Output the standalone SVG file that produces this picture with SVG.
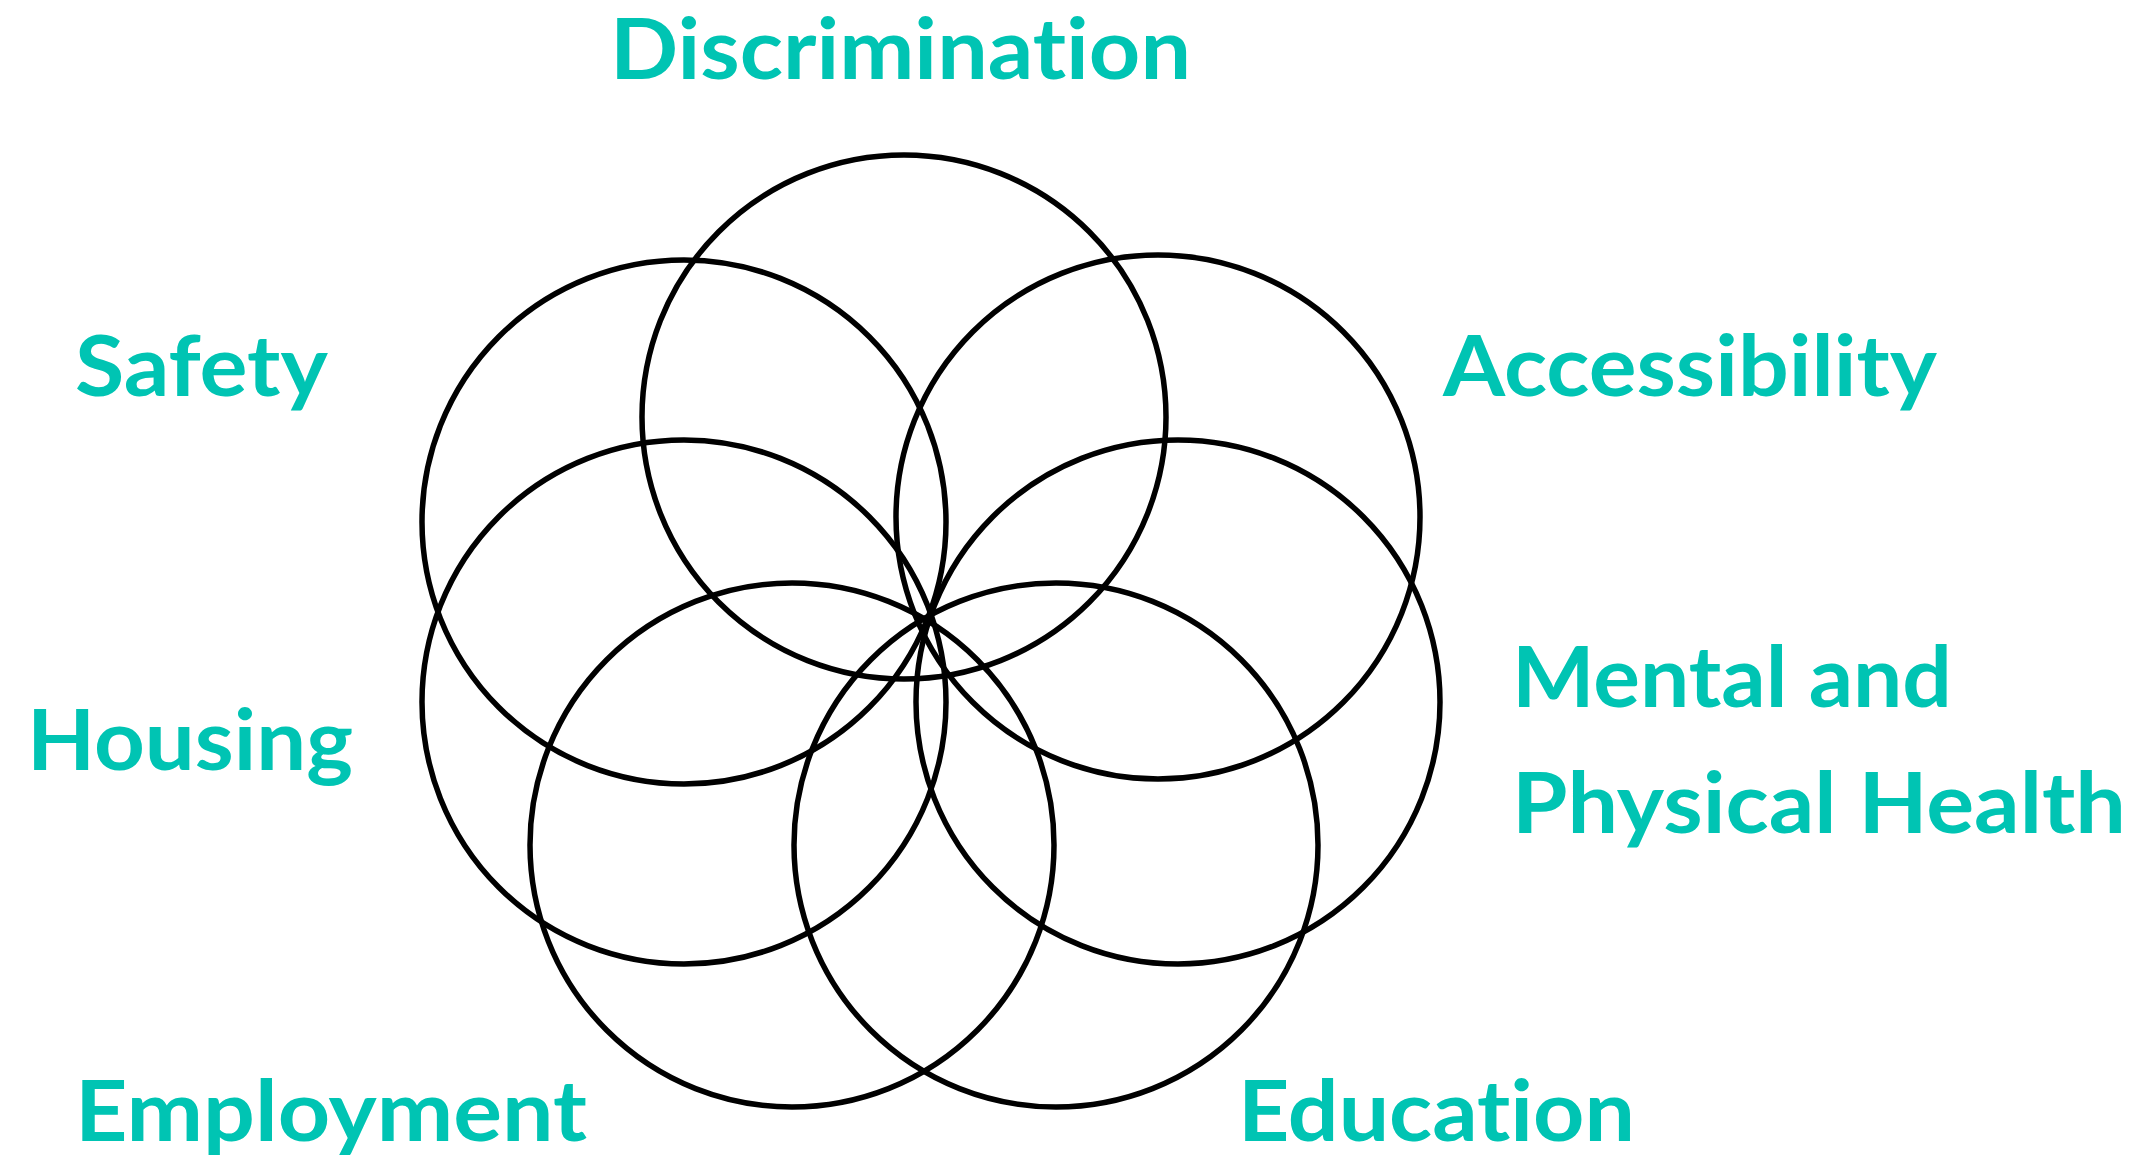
<svg xmlns="http://www.w3.org/2000/svg" width="2140" height="1155" viewBox="0 0 2140 1155">
<style>
.c{fill:none;stroke:#000;stroke-width:5.5}
.t{font-family:Lato,"Open Sans","Liberation Sans",sans-serif;font-weight:700;font-size:84px;fill:#00C4B3;font-variant-ligatures:none;font-feature-settings:"liga" 0,"clig" 0}
</style>
<rect width="2140" height="1155" fill="#fff"/>
<g id="circles">
<circle id="c-discrimination" class="c" cx="904" cy="417" r="262"/>
<circle id="c-accessibility" class="c" cx="1158" cy="517" r="262"/>
<circle id="c-mental" class="c" cx="1178" cy="702" r="262"/>
<circle id="c-education" class="c" cx="1056" cy="845" r="262"/>
<circle id="c-employment" class="c" cx="792" cy="845" r="262"/>
<circle id="c-housing" class="c" cx="684" cy="702" r="262"/>
<circle id="c-safety" class="c" cx="684" cy="522" r="262"/>
</g>
<g id="labels">
<text id="discrimination" class="t" x="610" y="79" textLength="581" lengthAdjust="spacingAndGlyphs">Discrimination</text>
<text id="safety" class="t" x="75" y="396" textLength="253" lengthAdjust="spacingAndGlyphs">Safety</text>
<text id="accessibility" class="t" x="1443" y="396" textLength="494" lengthAdjust="spacingAndGlyphs">Accessibility</text>
<g id="mental">
<text class="t" x="1512" y="707" textLength="440" lengthAdjust="spacingAndGlyphs">Mental and</text>
<text class="t" x="1512" y="833" textLength="614" lengthAdjust="spacingAndGlyphs">Physical Health</text>
</g>
<text id="housing" class="t" x="27" y="770" textLength="326" lengthAdjust="spacingAndGlyphs">Housing</text>
<text id="employment" class="t" x="75" y="1141" textLength="512" lengthAdjust="spacingAndGlyphs">Employment</text>
<text id="education" class="t" x="1238" y="1141" textLength="397" lengthAdjust="spacingAndGlyphs">Education</text>
</g>
</svg>
